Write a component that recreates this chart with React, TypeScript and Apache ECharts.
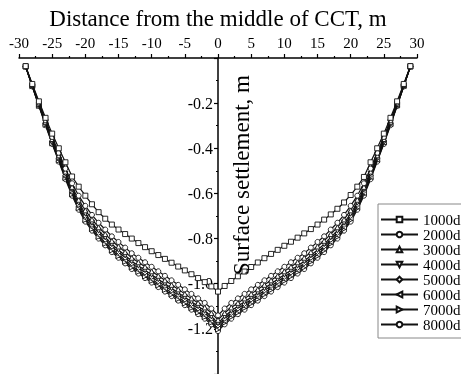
import React, { useEffect, useRef } from "react";
import * as echarts from "echarts";

const distances = [
  -29, -28, -27, -26, -25, -24, -23, -22, -21, -20, -19, -18, -17, -16, -15, -14, -13, -12, -11, -10,
  -9, -8, -7, -6, -5, -4, -3, -2, -1, 0, 1, 2, 3, 4, 5, 6, 7, 8, 9, 10, 11, 12, 13, 14, 15, 16, 17,
  18, 19, 20, 21, 22, 23, 24, 25, 26, 27, 28, 29,
];

const s1000 = [
  -0.036, -0.115, -0.192, -0.265, -0.335, -0.4, -0.462, -0.525, -0.57, -0.61, -0.648, -0.683, -0.712,
  -0.738, -0.76, -0.78, -0.8, -0.82, -0.838, -0.856, -0.873, -0.89, -0.907, -0.924, -0.941, -0.958,
  -0.975, -0.993, -1.012, -1.035, -1.01, -0.988, -0.967, -0.946, -0.926, -0.906, -0.887, -0.868,
  -0.85, -0.832, -0.814, -0.796, -0.777, -0.758, -0.738, -0.716, -0.693, -0.668, -0.64, -0.607,
  -0.57, -0.527, -0.462, -0.4, -0.335, -0.265, -0.192, -0.115, -0.036,
];
const s2000 = [
  -0.037, -0.118, -0.198, -0.275, -0.35, -0.42, -0.49, -0.555, -0.61, -0.655, -0.695, -0.73, -0.76,
  -0.79, -0.815, -0.84, -0.865, -0.885, -0.905, -0.925, -0.945, -0.965, -0.985, -1.005, -1.025,
  -1.045, -1.065, -1.085, -1.11, -1.14, -1.11, -1.085, -1.065, -1.045, -1.025, -1.005, -0.985,
  -0.965, -0.945, -0.925, -0.905, -0.885, -0.865, -0.84, -0.815, -0.79, -0.76, -0.73, -0.695,
  -0.655, -0.61, -0.555, -0.49, -0.42, -0.35, -0.275, -0.198, -0.118, -0.037,
];
const s3000 = [
  -0.037, -0.12, -0.202, -0.282, -0.359, -0.431, -0.503, -0.571, -0.628, -0.675, -0.715, -0.75,
  -0.78, -0.81, -0.835, -0.86, -0.885, -0.905, -0.925, -0.945, -0.965, -0.985, -1.005, -1.025,
  -1.045, -1.065, -1.085, -1.105, -1.13, -1.16, -1.13, -1.105, -1.085, -1.065, -1.045, -1.025,
  -1.005, -0.985, -0.965, -0.945, -0.925, -0.905, -0.885, -0.86, -0.835, -0.81, -0.78, -0.75,
  -0.715, -0.675, -0.628, -0.571, -0.503, -0.431, -0.359, -0.282, -0.202, -0.12, -0.037,
];
const s4000 = [
  -0.037, -0.122, -0.206, -0.287, -0.365, -0.44, -0.513, -0.582, -0.641, -0.69, -0.73, -0.765,
  -0.795, -0.825, -0.85, -0.875, -0.9, -0.92, -0.94, -0.96, -0.98, -1.0, -1.02, -1.04, -1.06, -1.08,
  -1.1, -1.12, -1.145, -1.175, -1.145, -1.12, -1.1, -1.08, -1.06, -1.04, -1.02, -1.0, -0.98, -0.96,
  -0.94, -0.92, -0.9, -0.875, -0.85, -0.825, -0.795, -0.765, -0.73, -0.69, -0.641, -0.582, -0.513,
  -0.44, -0.365, -0.287, -0.206, -0.122, -0.037,
];
const s5000 = [
  -0.038, -0.123, -0.208, -0.29, -0.37, -0.445, -0.52, -0.59, -0.65, -0.7, -0.74, -0.775, -0.805,
  -0.835, -0.86, -0.885, -0.91, -0.93, -0.95, -0.97, -0.99, -1.01, -1.03, -1.05, -1.07, -1.09, -1.11,
  -1.13, -1.155, -1.185, -1.155, -1.13, -1.11, -1.09, -1.07, -1.05, -1.03, -1.01, -0.99, -0.97,
  -0.95, -0.93, -0.91, -0.885, -0.86, -0.835, -0.805, -0.775, -0.74, -0.7, -0.65, -0.59, -0.52,
  -0.445, -0.37, -0.29, -0.208, -0.123, -0.038,
];
const s6000 = [
  -0.038, -0.124, -0.21, -0.293, -0.374, -0.451, -0.527, -0.598, -0.659, -0.71, -0.75, -0.785,
  -0.815, -0.845, -0.87, -0.895, -0.92, -0.94, -0.96, -0.98, -1.0, -1.02, -1.04, -1.06, -1.08, -1.1,
  -1.12, -1.14, -1.165, -1.195, -1.165, -1.14, -1.12, -1.1, -1.08, -1.06, -1.04, -1.02, -1.0, -0.98,
  -0.96, -0.94, -0.92, -0.895, -0.87, -0.845, -0.815, -0.785, -0.75, -0.71, -0.659, -0.598, -0.527,
  -0.451, -0.374, -0.293, -0.21, -0.124, -0.038,
];
const s7000 = [
  -0.038, -0.125, -0.212, -0.296, -0.378, -0.455, -0.532, -0.604, -0.666, -0.718, -0.758, -0.793,
  -0.823, -0.853, -0.878, -0.903, -0.928, -0.948, -0.968, -0.988, -1.008, -1.028, -1.048, -1.068,
  -1.088, -1.108, -1.128, -1.148, -1.173, -1.203, -1.173, -1.148, -1.128, -1.108, -1.088, -1.068,
  -1.048, -1.028, -1.008, -0.988, -0.968, -0.948, -0.928, -0.903, -0.878, -0.853, -0.823, -0.793,
  -0.758, -0.718, -0.666, -0.604, -0.532, -0.455, -0.378, -0.296, -0.212, -0.125, -0.038,
];
const s8000 = [
  -0.039, -0.126, -0.213, -0.298, -0.381, -0.459, -0.537, -0.61, -0.672, -0.725, -0.765, -0.8, -0.83,
  -0.86, -0.885, -0.91, -0.935, -0.955, -0.975, -0.995, -1.015, -1.035, -1.055, -1.075, -1.095,
  -1.115, -1.135, -1.155, -1.18, -1.21, -1.18, -1.155, -1.135, -1.115, -1.095, -1.075, -1.055,
  -1.035, -1.015, -0.995, -0.975, -0.955, -0.935, -0.91, -0.885, -0.86, -0.83, -0.8, -0.765, -0.725,
  -0.672, -0.61, -0.537, -0.459, -0.381, -0.298, -0.213, -0.126, -0.039,
];

const seriesNames = ["1000d", "2000d", "3000d", "4000d", "5000d", "6000d", "7000d", "8000d"];
const seriesValues = [s1000, s2000, s3000, s4000, s5000, s6000, s7000, s8000];
const xTickLabels = ["-30", "-25", "-20", "-15", "-10", "-5", "0", "5", "10", "15", "20", "25", "30"];
const yTickLabels = ["-0.2", "-0.4", "-0.6", "-0.8", "-1.0", "-1.2"];

const symbols: { symbol: string; rotate: number }[] = [
  { symbol: "rect", rotate: 0 },
  { symbol: "circle", rotate: 0 },
  { symbol: "triangle", rotate: 0 },
  { symbol: "triangle", rotate: 180 },
  { symbol: "diamond", rotate: 0 },
  { symbol: "triangle", rotate: 90 },
  { symbol: "triangle", rotate: -90 },
  { symbol: "circle", rotate: 0 },
];

const FONT = "Liberation Serif";

export default function App() {
  const ref = useRef<HTMLDivElement>(null);
  useEffect(() => {
    if (!ref.current) return;
    const chart = echarts.init(ref.current, null, { renderer: "svg" });
    const series = seriesNames.map((name, k) => ({
      name,
      type: "line",
      data: distances.map((d, i) => [d, seriesValues[k][i]]),
      symbol: symbols[k].symbol,
      symbolRotate: symbols[k].rotate,
      symbolSize: 5,
      lineStyle: { color: "#111", width: 1.2 },
      itemStyle: { color: "#fff", borderColor: "#111", borderWidth: 0.9 },
      z: 2 + (7 - k),
    }));
    chart.setOption({
      animation: false,
      grid: { left: 19, right: 44, top: 58, bottom: -31, containLabel: false },
      xAxis: {
        type: "value",
        position: "top",
        min: -30,
        max: 30,
        interval: 5,
        name: "Distance from the middle of CCT, m",
        nameLocation: "middle",
        nameGap: 25,
        nameTextStyle: { fontSize: 23, color: "#000", fontFamily: FONT },
        axisLine: { onZero: false, lineStyle: { color: "#000", width: 1.5 } },
        axisTick: { inside: false, length: 4, lineStyle: { color: "#000", width: 1.2 } },
        minorTick: { show: true, splitNumber: 2, length: 2, lineStyle: { color: "#000", width: 1.2 } },
        axisLabel: {
          fontSize: 15,
          color: "#000",
          fontFamily: FONT,
          margin: 8,
          formatter: (v: number) => xTickLabels[Math.round((v + 30) / 5)] ?? "",
        },
        splitLine: { show: false },
      },
      yAxis: {
        type: "value",
        position: "left",
        offset: -199,
        min: -1.4,
        max: 0,
        interval: 0.2,
        axisLine: { onZero: false, lineStyle: { color: "#000", width: 1.5 } },
        axisTick: { inside: false, length: 4, lineStyle: { color: "#000", width: 1.2 } },
        minorTick: { show: true, splitNumber: 2, length: 2, lineStyle: { color: "#000", width: 1.2 } },
        axisLabel: {
          fontSize: 16,
          color: "#000",
          fontFamily: FONT,
          margin: 5,
          formatter: (v: number) => {
            const idx = Math.round(-v / 0.2) - 1;
            return idx >= 0 && idx < yTickLabels.length ? yTickLabels[idx] : "";
          },
        },
        splitLine: { show: false },
      },
      legend: {
        orient: "vertical",
        left: 378,
        top: 204,
        padding: [8, 3, 6, 2],
        itemWidth: 37,
        itemHeight: 7,
        itemGap: 0,
        borderColor: "#888",
        borderWidth: 1,
        backgroundColor: "#fff",
        textStyle: { fontSize: 15, color: "#000", fontFamily: FONT },
        data: seriesNames,
      },
      graphic: [
        {
          type: "text",
          x: 241,
          y: 175,
          z: 100,
          rotation: Math.PI / 2,
          style: {
            text: "Surface settlement, m",
            fontSize: 23,
            fontFamily: FONT,
            fill: "#000",
            align: "center",
            verticalAlign: "middle",
          },
        },
      ],
      series,
    });
    return () => chart.dispose();
  }, []);
  return <div ref={ref} style={{ position: "fixed", left: 0, top: 0, width: 461, height: 374 }} />;
}
